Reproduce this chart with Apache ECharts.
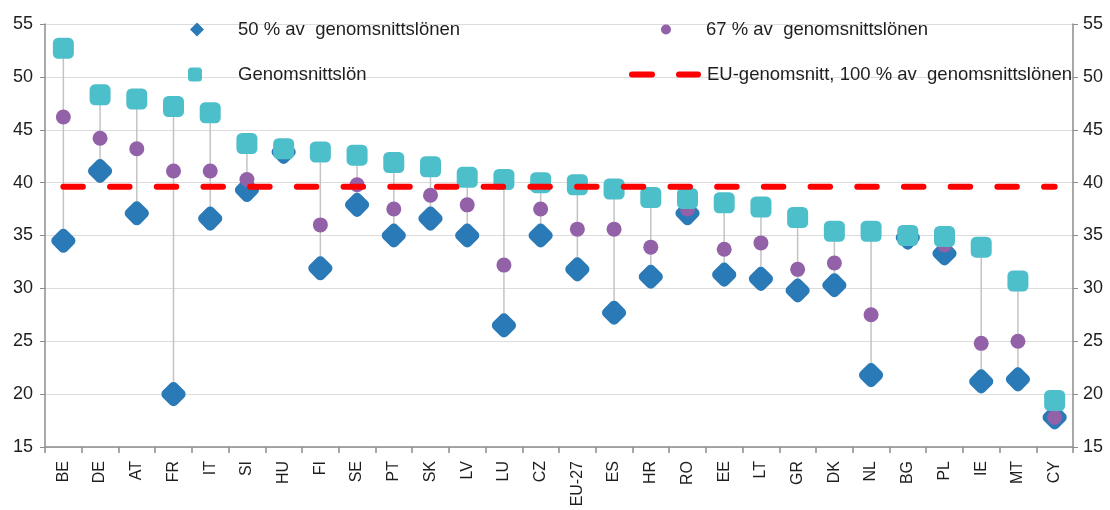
<!DOCTYPE html>
<html>
<head>
<meta charset="utf-8">
<script src="https://cdn.jsdelivr.net/npm/echarts@6/dist/echarts.min.js"></script>
<style>
  html, body { margin: 0; padding: 0; background: #fff; }
  #chart { width: 1110px; height: 510px; }
</style>
</head>
<body>
<div id="chart"></div>
<script>
// Countries, sorted by average wage
const countries = ['BE','DE','AT','FR','IT','SI','HU','FI','SE','PT','SK','LV','LU','CZ','EU-27','ES','HR','RO','EE','LT','GR','DK','NL','BG','PL','IE','MT','CY'];

// 50 % of the average wage
const half = [34.5,41.1,37.1,20.0,36.6,39.3,42.9,31.9,37.9,35.0,36.6,35.0,26.5,35.0,31.8,27.7,31.1,37.1,31.3,30.9,29.8,30.3,21.8,34.8,33.3,21.2,21.4,17.8];

// 67 % of the average wage
const twoThirds = [46.2,44.2,43.2,41.1,41.1,40.3,43.0,36.0,39.8,37.5,38.8,37.9,32.2,37.5,35.6,35.6,33.9,37.5,33.7,34.3,31.8,32.4,27.5,35.0,34.1,24.8,25.0,17.8];

// Average wage
const avgWage = [52.7,48.3,47.9,47.2,46.6,43.7,43.2,42.9,42.6,41.9,41.5,40.5,40.3,40.0,39.8,39.4,38.6,38.5,38.1,37.7,36.7,35.4,35.4,35.0,34.9,33.9,30.7,19.4];

// EU average, 100 % of the average wage
const euAverage = 39.6;

// Axis ticks
const yMin = 15, yMax = 55, yStep = 5;

const names = {
  half: '50 % av  genomsnittslönen',
  twoThirds: '67 % av  genomsnittslönen',
  avg: 'Genomsnittslön',
  eu: 'EU-genomsnitt, 100 % av  genomsnittslönen'
};

const colors = {
  half: '#2a7ab7',
  twoThirds: '#9361a8',
  avg: '#4dbfcb',
  eu: '#ff0000',
  stem: '#c4c4c4',
  axis: '#8c8c8c',
  grid: '#dcdcdc',
  text: '#1e1e1e'
};

// Vertical range line per country, spanning all three values
const ranges = countries.map((c, i) => {
  const vals = [half[i], twoThirds[i], avgWage[i]];
  return [i, Math.min(...vals), Math.max(...vals)];
});

const FONT = '"Liberation Sans", Arial, sans-serif';

const chart = echarts.init(document.getElementById('chart'), null, { renderer: 'canvas' });

const legendText = (pad) => ({ fontFamily: FONT, fontSize: 18.5, color: colors.text, padding: [0, 0, 0, pad] });

const legendBase = {
  orient: 'horizontal',
  padding: 0,
  itemHeight: 14,
  selectedMode: false
};

// two rounded dashes, used as the legend key of the EU line
const dashIcon = 'path://M3,0 H23 A3,3 0 0 1 23,6 H3 A3,3 0 0 1 3,0 Z M50,0 H69 A3,3 0 0 1 69,6 H50 A3,3 0 0 1 50,0 Z';

const option = {
  backgroundColor: '#ffffff',
  animation: false,
  legend: [
    Object.assign({}, legendBase, {
      left: 190, top: 20, itemWidth: 14,
      data: [{ name: names.half, icon: 'path://M0,-10 L10,0 L0,10 L-10,0 Z' }],
      textStyle: legendText(29)
    }),
    Object.assign({}, legendBase, {
      left: 661, top: 20, itemWidth: 10, itemHeight: 10,
      data: [{ name: names.twoThirds, icon: 'circle' }],
      textStyle: legendText(30)
    }),
    Object.assign({}, legendBase, {
      left: 188, top: 65, itemWidth: 14,
      data: [{ name: names.avg, icon: 'roundRect' }],
      textStyle: legendText(31)
    }),
    Object.assign({}, legendBase, {
      left: 629, top: 65, itemWidth: 72, itemHeight: 7,
      data: [{ name: names.eu, icon: dashIcon }],
      textStyle: legendText(1)
    })
  ],
  grid: { left: 45, right: 37, top: 24, bottom: 63, containLabel: false },
  xAxis: {
    type: 'category',
    data: countries,
    boundaryGap: true,
    axisLine: { lineStyle: { color: colors.axis, width: 1.5 } },
    axisTick: { show: true, alignWithLabel: false, length: 6, lineStyle: { color: colors.axis, width: 1.5 } },
    axisLabel: {
      interval: 0, rotate: 90, margin: 14,
      fontFamily: FONT, fontSize: 16, color: colors.text
    },
    splitLine: { show: false }
  },
  yAxis: [
    {
      type: 'value', position: 'left', min: yMin, max: yMax, interval: yStep,
      axisLine: { show: true, lineStyle: { color: colors.axis, width: 1.5 } },
      axisTick: { show: true, length: 5, lineStyle: { color: colors.axis } },
      axisLabel: { fontFamily: FONT, fontSize: 18, color: colors.text, margin: 12 },
      splitLine: { show: true, lineStyle: { color: colors.grid, width: 1 } }
    },
    {
      type: 'value', position: 'right', min: yMin, max: yMax, interval: yStep,
      axisLine: { show: true, lineStyle: { color: colors.axis, width: 1.5 } },
      axisTick: { show: true, length: 5, lineStyle: { color: colors.axis } },
      axisLabel: { fontFamily: FONT, fontSize: 18, color: colors.text, margin: 10 },
      splitLine: { show: false }
    }
  ],
  series: [
    {
      type: 'custom',
      name: 'range',
      z: 1,
      silent: true,
      data: ranges,
      renderItem: function (params, api) {
        const top = api.coord([api.value(0), api.value(2)]);
        const bottom = api.coord([api.value(0), api.value(1)]);
        return {
          type: 'line',
          shape: { x1: top[0], y1: top[1], x2: bottom[0], y2: bottom[1] },
          style: { stroke: colors.stem, lineWidth: 1.5 }
        };
      }
    },
    {
      type: 'scatter',
      name: names.half,
      z: 2,
      data: half,
      symbol: 'roundRect',
      symbolSize: 20,
      symbolRotate: 45,
      itemStyle: { color: colors.half, opacity: 1 }
    },
    {
      type: 'scatter',
      name: names.twoThirds,
      z: 3,
      data: twoThirds,
      symbol: 'circle',
      symbolSize: 15,
      itemStyle: { color: colors.twoThirds, opacity: 1 }
    },
    {
      type: 'scatter',
      name: names.avg,
      z: 4,
      data: avgWage,
      symbol: 'roundRect',
      symbolSize: 21,
      itemStyle: { color: colors.avg, opacity: 1 }
    },
    {
      type: 'line',
      name: names.eu,
      z: 5,
      data: countries.map(() => euAverage),
      symbol: 'none',
      lineStyle: { color: colors.eu, width: 6, type: [19.5, 27.2], cap: 'round' },
      itemStyle: { color: colors.eu }
    }
  ]
};

chart.setOption(option);
</script>
</body>
</html>
